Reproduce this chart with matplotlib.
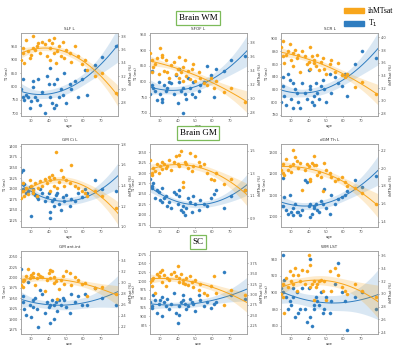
import numpy as np
import matplotlib
matplotlib.use('Agg')
import matplotlib.pyplot as plt
from matplotlib.patches import Patch

# subject ages (shared by every region)
ages = [24, 25, 25, 26, 27, 28, 29, 30, 31, 31, 32, 33, 34, 35, 36, 38, 39, 40, 41, 41,
        42, 43, 43, 44, 45, 46, 47, 48, 49, 50, 52, 53, 55, 57, 59, 61, 62, 67, 71, 79]

titles = ['SLF L', 'SFOF L', 'SCR L', 'GM Ci L', 'dGM Pu L', 'dGM Th L',
          'GM ant.int', 'WM PST', 'WM LST']
sections = ['Brain WM', 'Brain GM', 'SC']

t1_slf = [790, 830, 760, 750, 770, 760, 720, 745, 820, 800, 760, 750, 830, 730, 780, 700, 840, 810, 760, 870,
          740, 720, 810, 730, 830, 760, 790, 770, 850, 740, 810, 790, 820, 760, 830, 860, 770, 880, 910, 950]
mt_slf = [3.45, 3.62, 3.55, 3.40, 3.75, 3.58, 3.48, 3.52, 3.80, 3.62, 3.60, 3.65, 3.70, 3.55, 3.72, 3.68, 3.50, 3.75, 3.62, 3.45,
          3.70, 3.55, 3.78, 3.40, 3.58, 3.65, 3.50, 3.72, 3.48, 3.60, 3.55, 3.42, 3.65, 3.50, 3.38, 3.45, 3.30, 3.20, 3.25, 2.95]
t1_sfof = [760, 835, 790, 780, 770, 740, 800, 760, 745, 735, 790, 770, 780, 800, 795, 760, 820, 730, 800, 840,
           770, 700, 780, 760, 745, 810, 780, 760, 800, 750, 770, 790, 800, 850, 820, 750, 840, 835, 870, 880]
mt_sfof = [3.65, 3.55, 3.38, 3.45, 3.50, 3.58, 3.35, 3.72, 3.62, 3.60, 3.40, 3.55, 3.38, 3.30, 3.48, 3.52, 3.35, 3.42, 3.30, 3.60,
           3.38, 3.45, 3.25, 3.55, 3.32, 3.40, 3.28, 3.42, 3.50, 3.25, 3.38, 3.30, 3.22, 3.20, 3.30, 3.15, 3.25, 3.10, 3.15, 2.95]
t1_scr = [800, 840, 825, 810, 795, 845, 835, 805, 790, 830, 820, 815, 800, 790, 830, 815, 805, 850, 820, 825,
          800, 795, 810, 830, 815, 805, 825, 835, 820, 800, 845, 815, 840, 830, 825, 845, 810, 860, 880, 870]
mt_scr = [3.85, 3.70, 3.95, 3.60, 3.72, 3.78, 3.90, 3.65, 3.55, 3.75, 3.80, 3.68, 3.72, 3.45, 3.78, 3.70, 3.58, 3.62, 3.85, 3.50,
          3.70, 3.65, 3.60, 3.55, 3.72, 3.48, 3.62, 3.68, 3.50, 3.42, 3.58, 3.65, 3.45, 3.60, 3.40, 3.38, 3.42, 3.22, 3.30, 3.10]
t1_gmci = [1340, 1345, 1300, 1310, 1290, 1295, 1305, 1235, 1290, 1300, 1285, 1280, 1275, 1300, 1290, 1270, 1280, 1290, 1245, 1230,
           1270, 1260, 1275, 1285, 1290, 1265, 1250, 1280, 1270, 1285, 1260, 1275, 1270, 1290, 1280, 1300, 1290, 1320, 1300, 1295]
mt_gmci = [1.28, 1.35, 1.42, 1.30, 1.38, 1.32, 1.45, 1.40, 1.36, 1.33, 1.42, 1.30, 1.38, 1.44, 1.40, 1.46, 1.42, 1.48, 1.35, 1.45,
           1.50, 1.40, 1.47, 1.72, 1.38, 1.43, 1.55, 1.48, 1.40, 1.45, 1.42, 1.60, 1.40, 1.38, 1.35, 1.33, 1.30, 1.35, 1.30, 1.18]
t1_pu = [1285, 1270, 1265, 1275, 1240, 1260, 1255, 1235, 1230, 1265, 1240, 1245, 1220, 1230, 1215, 1255, 1250, 1225, 1260, 1245,
         1210, 1205, 1220, 1200, 1215, 1240, 1230, 1205, 1245, 1225, 1210, 1235, 1225, 1220, 1240, 1250, 1260, 1215, 1245, 1260]
mt_pu = [1.42, 1.28, 1.30, 1.35, 1.32, 1.38, 1.30, 1.36, 1.34, 1.40, 1.38, 1.35, 1.36, 1.42, 1.33, 1.40, 1.45, 1.38, 1.36, 1.46,
         1.50, 1.22, 1.18, 1.40, 1.38, 1.35, 1.48, 1.32, 1.36, 1.45, 1.40, 1.36, 1.38, 1.30, 1.25, 1.24, 1.30, 1.20, 1.25, 1.15]
t1_th = [1050, 1180, 1050, 1090, 1030, 1010, 1100, 1020, 1005, 1040, 1060, 1020, 1020, 1005, 1030, 1170, 1160, 1050, 1060, 995,
         1010, 1050, 1040, 1060, 1030, 1020, 1070, 1060, 1130, 1040, 1010, 1100, 1060, 1080, 1090, 1100, 1120, 1170, 1140, 1190]
mt_th = [1.98, 1.95, 2.05, 1.92, 2.10, 1.98, 2.02, 1.96, 2.20, 2.05, 2.12, 2.08, 2.00, 2.06, 1.76, 1.98, 2.05, 2.02, 1.88, 1.86,
         2.06, 2.04, 2.14, 2.03, 1.92, 1.96, 1.90, 1.74, 2.06, 1.98, 1.94, 1.90, 1.85, 1.88, 1.90, 1.84, 1.80, 1.78, 1.72, 1.60]
t1_ant = [2020, 1940, 1955, 1925, 1910, 1990, 1935, 1905, 1945, 1930, 1950, 1925, 1880, 1970, 1960, 1915, 1940, 1930, 1935, 1890,
          1945, 1900, 1935, 1940, 1920, 1945, 1935, 1950, 1945, 1930, 1915, 1960, 1940, 1955, 1935, 1960, 1935, 1975, 1950, 1935]
mt_ant = [2.95, 3.02, 2.92, 3.05, 3.12, 3.25, 3.08, 3.14, 3.18, 3.10, 2.95, 3.08, 3.15, 3.12, 3.10, 2.85, 3.05, 3.18, 3.22, 3.08,
          3.20, 3.00, 3.10, 3.02, 2.70, 2.88, 3.05, 3.12, 2.98, 3.20, 3.18, 2.95, 3.10, 3.05, 2.98, 3.00, 2.75, 2.90, 2.92, 2.80]
t1_pst = [940, 930, 925, 960, 945, 910, 935, 945, 900, 955, 940, 930, 950, 920, 935, 965, 910, 880, 930, 905,
          940, 960, 945, 935, 920, 930, 950, 940, 935, 915, 960, 945, 930, 940, 925, 935, 940, 1025, 960, 950]
mt_pst = [3.30, 3.35, 3.20, 3.40, 3.05, 3.50, 3.45, 3.55, 3.60, 3.30, 3.48, 3.20, 3.40, 3.35, 3.50, 3.55, 3.45, 3.70, 3.40, 3.30,
          3.50, 3.35, 3.28, 3.25, 3.40, 3.22, 3.45, 3.30, 3.18, 3.35, 3.10, 3.25, 3.05, 3.00, 3.20, 3.45, 3.05, 2.75, 3.10, 3.00]
t1_lst = [905, 945, 900, 915, 895, 880, 890, 885, 905, 895, 870, 900, 875, 880, 905, 880, 865, 905, 940, 870,
          860, 885, 880, 895, 890, 885, 900, 875, 880, 895, 875, 890, 910, 935, 900, 890, 855, 895, 900, 880]
mt_lst = [3.00, 2.95, 3.15, 2.70, 3.25, 3.10, 3.35, 3.20, 3.30, 3.15, 3.40, 3.05, 3.30, 3.20, 3.38, 3.15, 3.35, 3.60, 3.10, 3.45,
          3.15, 2.90, 3.20, 3.10, 3.15, 3.20, 3.22, 3.05, 3.20, 2.90, 3.35, 3.05, 3.40, 3.30, 3.10, 3.05, 3.00, 3.15, 3.05, 2.95]

t1_all = [t1_slf, t1_sfof, t1_scr, t1_gmci, t1_pu, t1_th, t1_ant, t1_pst, t1_lst]
mt_all = [mt_slf, mt_sfof, mt_scr, mt_gmci, mt_pu, mt_th, mt_ant, mt_pst, mt_lst]

# axis limits / ticks per panel
t1_lims = [(690, 1000), (690, 955), (778, 909), (1210, 1405), (1170, 1370), (950, 1340),
           (1864, 2064), (850, 1085), (850, 950)]
t1_ticks = [np.arange(700, 951, 50), np.arange(700, 951, 50), np.arange(780, 901, 20),
            np.arange(1225, 1401, 25), np.arange(1175, 1351, 25), np.arange(1000, 1301, 100),
            np.arange(1875, 2051, 25), np.arange(875, 1076, 25), np.arange(860, 941, 20)]
mt_lims = [(2.6, 3.85), (2.75, 3.94), (2.76, 4.07), (1.0, 1.8), (0.82, 1.56), (1.34, 2.27),
           (2.07, 3.57), (2.05, 4.05), (2.37, 3.67)]
mt_ticks = [np.arange(2.8, 3.81, 0.2), np.arange(2.8, 3.81, 0.2), np.arange(2.8, 4.01, 0.2),
            np.arange(1.0, 1.81, 0.2), np.arange(0.9, 1.51, 0.2), np.arange(1.4, 2.21, 0.2),
            np.arange(2.2, 3.41, 0.2), np.arange(2.25, 3.76, 0.25), np.arange(2.4, 3.61, 0.2)]

BLUE = '#2f7dc0'
ORANGE = '#f8a61c'
SERIF = 'Liberation Serif'


def quad_fit(x, y, xg):
    x = np.asarray(x, float)
    y = np.asarray(y, float)
    X = np.vander(x, 3)
    beta = np.linalg.lstsq(X, y, rcond=None)[0]
    resid = y - X @ beta
    s2 = resid @ resid / (len(x) - 3)
    cov = s2 * np.linalg.inv(X.T @ X)
    Xg = np.vander(xg, 3)
    yg = Xg @ beta
    se = np.sqrt(np.einsum('ij,jk,ik->i', Xg, cov, Xg))
    return yg, 1.96 * se


def style(ax):
    for s in ax.spines.values():
        s.set_color('#a0a0a0')
        s.set_linewidth(0.5)
    ax.tick_params(labelsize=2.6, length=1, width=0.4, pad=1, colors='#555555')


fig = plt.figure(figsize=(4.0, 3.45), dpi=100)
W, H = 400.0, 345.0
col_left = [21, 150, 281]
ax_w = 97
rows = [(33, 116), (144, 227), (251, 334)]
xg = np.linspace(24, 80, 120)

for i in range(9):
    r, c = divmod(i, 3)
    top, bot = rows[r]
    ax = fig.add_axes([col_left[c] / W, 1 - bot / H, ax_w / W, (bot - top) / H])
    ax2 = ax.twinx()
    style(ax)
    style(ax2)

    yg, ci = quad_fit(ages, t1_all[i], xg)
    ax.fill_between(xg, yg - ci, yg + ci, color=BLUE, alpha=0.18, lw=0)
    ax.plot(xg, yg, color=BLUE, lw=0.7)
    ax.scatter(ages, t1_all[i], s=5, marker='o', facecolor=BLUE, edgecolor=BLUE,
               linewidths=0.3, zorder=3)

    yg2, ci2 = quad_fit(ages, mt_all[i], xg)
    ax2.fill_between(xg, yg2 - ci2, yg2 + ci2, color=ORANGE, alpha=0.22, lw=0)
    ax2.plot(xg, yg2, color=ORANGE, lw=0.7)
    ax2.scatter(ages, mt_all[i], s=5, marker='o', facecolor=ORANGE, edgecolor=ORANGE,
                linewidths=0.3, zorder=3)

    ax.set_xlim(24, 80)
    ax.set_xticks([30, 40, 50, 60, 70])
    ax.set_ylim(*t1_lims[i])
    ax.set_yticks(t1_ticks[i])
    ax2.set_ylim(*mt_lims[i])
    ax2.set_yticks(mt_ticks[i])
    ax2.yaxis.set_major_formatter(matplotlib.ticker.FormatStrFormatter('%.1f' if i != 7 else '%.2f'))
    ax.set_title(titles[i], fontsize=3, pad=2, color='#333333')
    ax.set_ylabel('T1 (ms)', fontsize=2.6, labelpad=1.5, color='#333333')
    ax2.set_ylabel('ihMTsat (%)', fontsize=2.6, labelpad=1.5, color='#333333')
    ax.set_xlabel('age', fontsize=2.6, labelpad=1, color='#333333')

# section headers
sec_y = [18, 133, 242]
for name, y in zip(sections, sec_y):
    fig.text(198 / W, 1 - y / H, name, ha='center', va='center', fontsize=6.5, family=SERIF,
             bbox=dict(boxstyle='square,pad=0.3', fc='white', ec='#7dbb5a', lw=0.9))

handles = [Patch(color=ORANGE), Patch(color=BLUE)]
fig.legend(handles, ['ihMTsat', 'T$_1$'], loc='upper right', bbox_to_anchor=(1.0, 1.0),
           frameon=False, prop={'family': SERIF, 'size': 5.5}, handlelength=2.6,
           handleheight=0.7, labelspacing=0.4, handletextpad=0.5)

fig.savefig('out.png', dpi=100)
